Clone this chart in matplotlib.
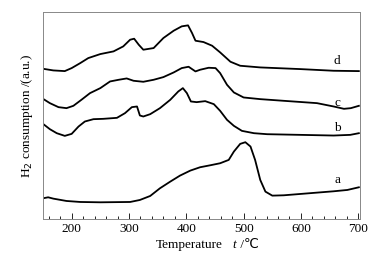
import numpy as np
import matplotlib
matplotlib.use("Agg")
import matplotlib.pyplot as plt
from matplotlib.ticker import MultipleLocator

# temperature (C) and signal height (arbitrary units)
t_a = [150, 159, 168, 191, 215, 250, 302, 319, 337, 354, 372, 389, 407, 424, 442,
       459, 474, 483, 494, 503, 512, 520, 529, 538, 550, 570, 599, 628, 657, 681, 701]
h_a = [62, 65, 61, 54, 51, 50, 51, 57, 69, 92, 112, 130, 145, 155, 161,
       167, 177, 202, 225, 230, 217, 177, 117, 82, 70, 71, 75, 79, 83, 87, 95]

t_b = [150, 162, 174, 188, 200, 212, 223, 238, 255, 279, 293, 305, 314, 319, 325,
       337, 354, 372, 386, 394, 401, 408, 418, 433, 448, 459, 471, 483, 497, 518,
       541, 599, 657, 686, 701]
h_b = [285, 269, 257, 249, 255, 277, 292, 299, 300, 303, 317, 335, 337, 310, 307,
       314, 332, 357, 382, 392, 377, 352, 350, 353, 344, 324, 297, 279, 264, 257,
       254, 252, 250, 252, 257]

t_c = [150, 162, 177, 191, 203, 217, 232, 250, 267, 282, 296, 308, 325, 343, 360,
       378, 392, 404, 416, 424, 439, 451, 459, 471, 483, 500, 529, 570, 628, 657,
       675, 687, 701]
h_c = [360, 347, 335, 332, 339, 357, 377, 392, 412, 417, 421, 414, 411, 417, 425,
       439, 452, 456, 442, 447, 453, 452, 437, 402, 379, 364, 359, 354, 347, 337,
       330, 332, 339]

t_d = [150, 168, 188, 200, 215, 229, 250, 273, 290, 302, 309, 317, 325, 343, 360,
       378, 392, 403, 410, 416, 430, 445, 459, 477, 494, 529, 599, 657, 701]
h_d = [450, 445, 443, 452, 467, 482, 494, 502, 517, 537, 540, 522, 507, 512, 542,
       564, 577, 580, 557, 534, 530, 519, 499, 471, 459, 454, 449, 444, 443]

labels = ["a", "b", "c", "d"]
label_t = 663
label_h = [117, 274, 347, 472]

serif = ['Liberation Serif', 'DejaVu Serif']
plt.rcParams['font.family'] = serif

fig = plt.figure(figsize=(3.83, 2.56), dpi=100)
ax = fig.add_axes([43 / 383, 1 - 219 / 256, 317 / 383, 207 / 256])

for t, h in [(t_a, h_a), (t_b, h_b), (t_c, h_c), (t_d, h_d)]:
    ax.plot(t, h, color="black", lw=1.3, solid_joinstyle="round")

for lab, y in zip(labels, label_h):
    ax.text(label_t, y, lab, fontsize=9.5, ha="center", va="center")

ax.set_xlim(150, 703)
ax.set_ylim(0, 620)
ax.set_yticks([])
ax.xaxis.set_major_locator(MultipleLocator(100))
ax.xaxis.set_minor_locator(MultipleLocator(20))
ax.tick_params(axis="x", which="major", direction="in", length=4, width=0.6,
               labelsize=9.5, pad=3)
ax.tick_params(axis="x", which="minor", direction="in", length=2, width=0.6)
for s in ax.spines.values():
    s.set_color("#888888")
    s.set_linewidth(0.7)

# x label in pieces: upright word, italic t, then the degree sign
fig.text(156 / 383, 1 - 245 / 256, "Temperature", fontsize=9.5, ha="left", va="center")
fig.text(232 / 383, 1 - 245 / 256, "t", fontsize=9.5, style="italic", ha="left", va="center")
fig.text(237 / 383, 1 - 245 / 256, " /\u2103", fontsize=9.5, ha="left", va="center",
         family=['Liberation Serif', 'DejaVu Sans'])
ax.set_ylabel("H$_2$ consumption /(a.u.)", fontsize=9.5, labelpad=6)

fig.savefig("out.png", dpi=100)
